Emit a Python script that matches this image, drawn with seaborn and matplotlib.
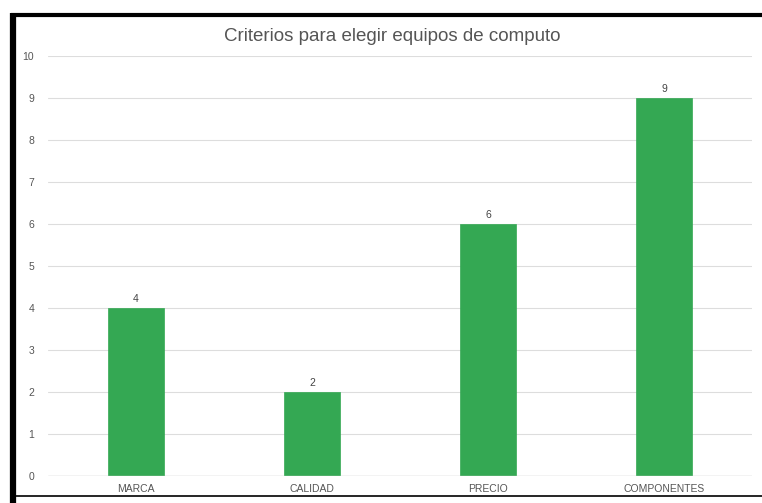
import numpy as np
import pandas as pd
import matplotlib
matplotlib.use('Agg')
import matplotlib.pyplot as plt
import seaborn as sns
from matplotlib.lines import Line2D

categories = ['MARCA', 'CALIDAD', 'PRECIO', 'COMPONENTES']
values = [4, 2, 6, 9]
yticks = list(range(0, 11))

sns.set_style('white')
plt.rcParams['font.family'] = ['Liberation Sans', 'DejaVu Sans']

df = pd.DataFrame({'criterio': categories, 'valor': values})

fig = plt.figure(figsize=(7.62, 5.03), dpi=100)
ax = fig.add_axes([48 / 762, 1 - 476 / 503, 704 / 762, 420 / 503])

sns.barplot(data=df, x='criterio', y='valor', color='#34a853', saturation=1,
            width=0.318, ax=ax, zorder=3, edgecolor='#34a853', linewidth=0.5)

ax.set_ylim(0, 10)
ax.set_xlim(-0.5, len(categories) - 0.5)
ax.set_yticks(yticks)
ax.yaxis.grid(True, color='#dddddd', linewidth=0.8, zorder=0)
ax.axhline(0, color='#cccccc', linewidth=1, zorder=4)
for s in ax.spines.values():
    s.set_visible(False)
ax.tick_params(axis='y', length=0, labelsize=7.5, labelcolor='#555555', pad=10)
ax.tick_params(axis='x', length=0, labelsize=7.5, labelcolor='#555555', pad=6)
ax.set_xlabel('')
ax.set_ylabel('')

for c in ax.containers:
    ax.bar_label(c, labels=[str(v) for v in values], padding=3, fontsize=7.5,
                 color='#444444')

fig.text(392 / 762, 1 - 37 / 503, 'Criterios para elegir equipos de computo',
         ha='center', va='center', fontsize=13.5, color='#555555')

# screenshot frame
fig.add_artist(Line2D([13 / 762, 13 / 762], [0, 1 - 13 / 503],
                      transform=fig.transFigure, color='black', linewidth=4.5,
                      solid_capstyle='butt'))
fig.add_artist(Line2D([11 / 762, 1], [1 - 15 / 503, 1 - 15 / 503],
                      transform=fig.transFigure, color='black', linewidth=3,
                      solid_capstyle='butt'))
fig.add_artist(Line2D([13 / 762, 1], [1 - 496 / 503, 1 - 496 / 503],
                      transform=fig.transFigure, color='black', linewidth=1.2,
                      solid_capstyle='butt'))

fig.savefig('out.png', dpi=100, facecolor='white')
